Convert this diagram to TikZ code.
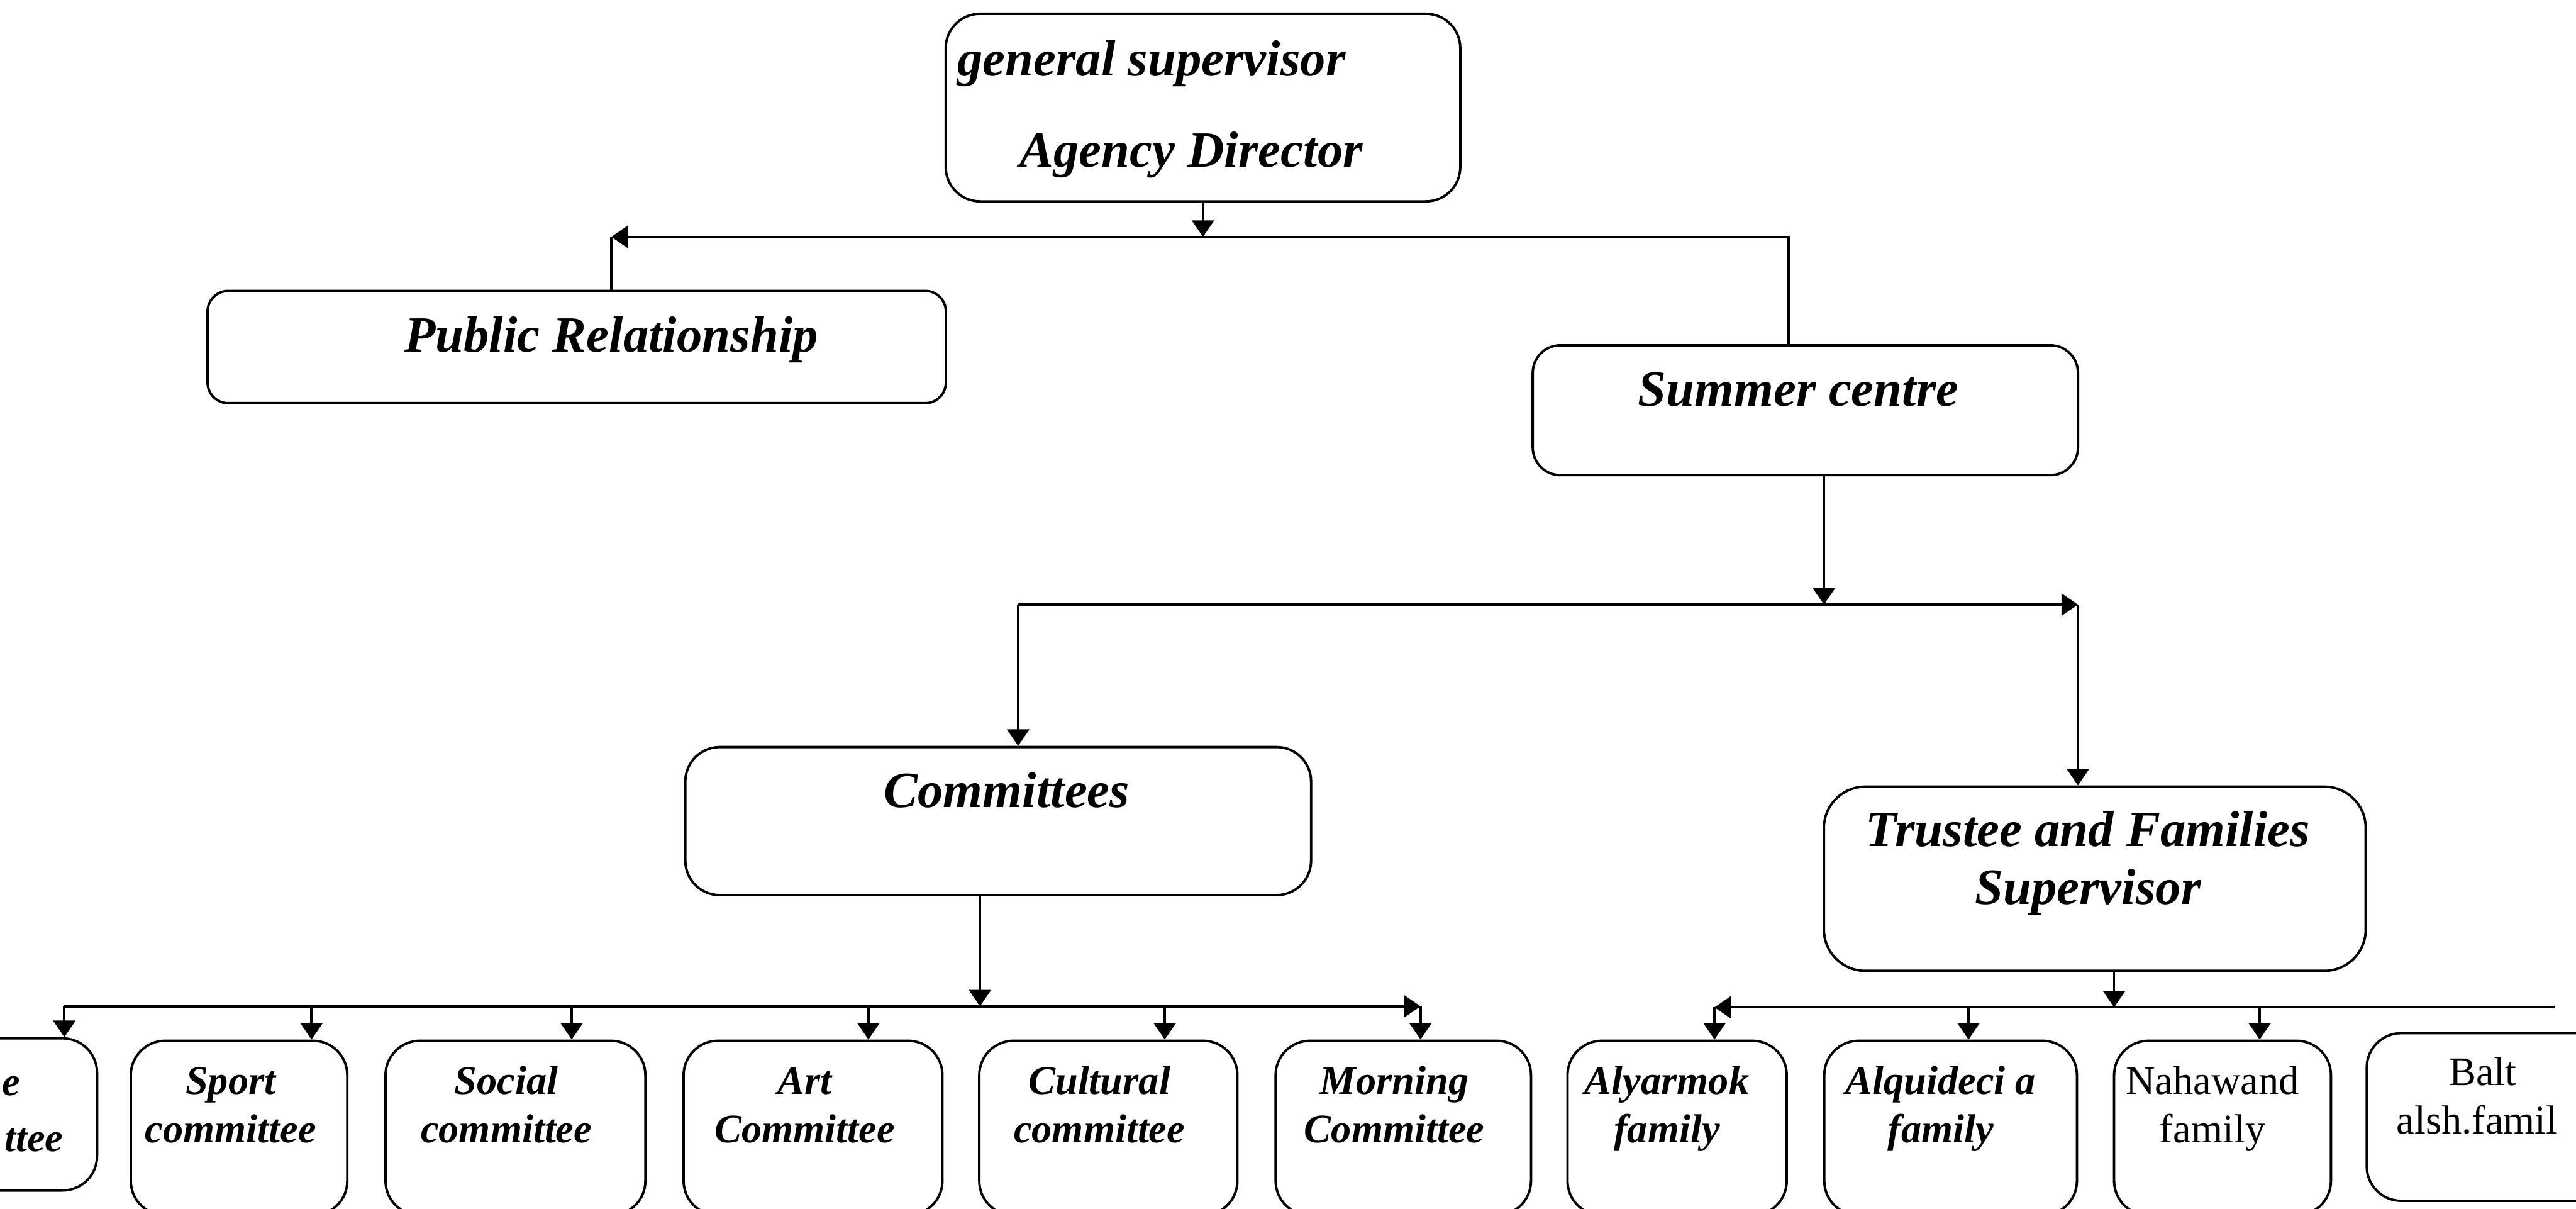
\documentclass[tikz,border=0pt]{standalone}
\usepackage{fontspec}
\setmainfont{Liberation Serif}
\usetikzlibrary{arrows.meta}
\begin{document}
\begin{tikzpicture}[x=1cm, y=-1cm, line width=2pt,
	>={Triangle[length=.48cm,width=.64cm]},
	box/.style={draw, rounded corners=1cm, inner sep=0pt},
	bigtxt/.style={font=\fontsize{42}{48}\selectfont\bfseries\itshape, inner sep=0pt, anchor=base},
	subtxt/.style={font=\fontsize{33.5}{40}\selectfont\bfseries\itshape, inner sep=0pt, anchor=base, align=center},
	uptxt/.style={subtxt, font=\fontsize{33.5}{40}\selectfont}]
	\useasboundingbox (0,0) rectangle (74.84,35.10);
	% upper boxes
	\node[box, minimum width=14.95cm, minimum height=5.45cm]                      (gs) at (34.95,3.125) {};
	\node[box, minimum width=21.45cm, minimum height=3.26cm, rounded corners=.6cm] (pr) at (16.755,10.08) {};
	\node[box, minimum width=15.84cm, minimum height=3.77cm, rounded corners=.8cm] (sc) at (52.45,11.915) {};
	\node[box, minimum width=18.18cm, minimum height=4.30cm]                      (cm) at (29.0,23.85) {};
	\node[box, minimum width=15.74cm, minimum height=5.35cm, rounded corners=1.2cm] (tf) at (60.86,25.525) {};
	\node[bigtxt, anchor=base west] (gst) at (27.78,2.20) {general supervisor};
	\node[bigtxt] (adt) at (34.61,4.85)  {Agency Director};
	\node[bigtxt] (prt) at (17.76,10.22) {Public Relationship};
	\node[bigtxt] (sct) at (52.25,11.80) {Summer centre};
	\node[bigtxt] (cmt) at (29.25,23.45) {Committees};
	\node[bigtxt, align=center] (tft) at (60.66,26.27) {Trustee and Families\\Supervisor};
	% lower boxes
	\node[box, minimum width=6.32cm, minimum height=4.42cm] (pa) at (-0.34,32.37) {};
	\node[box, minimum width=6.29cm, minimum height=5.07cm] (sp) at (6.945,32.765) {};
	\node[box, minimum width=7.55cm, minimum height=5.07cm] (so) at (14.975,32.765) {};
	\node[box, minimum width=7.52cm, minimum height=5.07cm] (ar) at (23.62,32.765) {};
	\node[box, minimum width=7.50cm, minimum height=5.07cm] (cu) at (32.2,32.765) {};
	\node[box, minimum width=7.42cm, minimum height=5.07cm] (mo) at (40.77,32.765) {};
	\node[box, minimum width=6.37cm, minimum height=5.07cm] (al) at (48.725,32.765) {};
	\node[box, minimum width=7.34cm, minimum height=5.07cm] (aq) at (56.67,32.765) {};
	\node[box, minimum width=6.30cm, minimum height=5.07cm] (na) at (64.57,32.765) {};
	\node[box, minimum width=7.24cm, minimum height=4.87cm] (ba) at (72.38,32.445) {};
	\node[subtxt, anchor=base east] (pat1) at (0.62,31.82) {e};
	\node[subtxt, anchor=base east] (pat2) at (1.87,33.45) {ttee};
	\node[subtxt] (spt) at (6.70,33.19)  {Sport\\committee};
	\node[subtxt] (sot) at (14.71,33.19) {Social\\committee};
	\node[subtxt] (art) at (23.38,33.19) {Art\\Committee};
	\node[subtxt] (cut) at (31.94,33.19) {Cultural\\committee};
	\node[subtxt] (mot) at (40.51,33.19) {Morning\\Committee};
	\node[subtxt] (alt) at (48.43,33.19) {Alyarmok\\family};
	\node[subtxt] (aqt) at (56.38,33.19) {Alquideci a\\family};
	\node[uptxt]  (nat) at (64.28,33.19) {Nahawand\\family};
	\node[uptxt]  (bat1) at (72.13,31.53) {Balt};
	\node[uptxt, anchor=base west] (bat2) at (69.59,32.94) {alsh.famil};
	% first level
	\coordinate (j1)  at (34.95,6.88);
	\coordinate (prc) at (17.76,6.88);
	\coordinate (scc) at (51.97,6.88);
	\draw[->] (gs.south) -- (j1);
	\draw[->] (j1) -- (prc);
	\draw (prc) -- (prc |- pr.north);
	\draw (j1) -- (scc) -- (scc |- sc.north);
	% second level
	\coordinate (j2)  at (52.99,17.56);
	\coordinate (cmc) at (29.58,17.56);
	\coordinate (tfc) at (60.37,17.56);
	\draw[->] (sc.south -| j2) -- (j2);
	\draw (j2) -- (cmc);
	\draw[->] (cmc) -- (cmc |- cm.north);
	\draw[->] (j2) -- (tfc);
	\draw[->] (tfc) -- (tfc |- tf.north);
	% committees
	\coordinate (j3)  at (28.47,29.23);
	\coordinate (b3l) at (1.87,29.23);
	\coordinate (b3r) at (41.27,29.23);
	\draw[->] (cm.south -| j3) -- (j3);
	\draw[->] (b3l) -- (b3r);
	\foreach \x/\n in {1.87/pa, 9.05/sp, 16.61/so, 25.23/ar, 33.84/cu, 41.27/mo} {
		\coordinate (d\n) at (\x,29.23);
		\draw[->] (d\n) -- (d\n |- \n.north);
	}
	% families
	\coordinate (j4)  at (61.42,29.26);
	\coordinate (b4l) at (49.81,29.26);
	\coordinate (b4r) at (74.22,29.26);
	\draw[->] (tf.south -| j4) -- (j4);
	\draw[->] (b4r) -- (b4l);
	\foreach \x/\n in {49.81/al, 57.19/aq, 65.65/na} {
		\coordinate (d\n) at (\x,29.26);
		\draw[->] (d\n) -- (d\n |- \n.north);
	}
\end{tikzpicture}
\end{document}
